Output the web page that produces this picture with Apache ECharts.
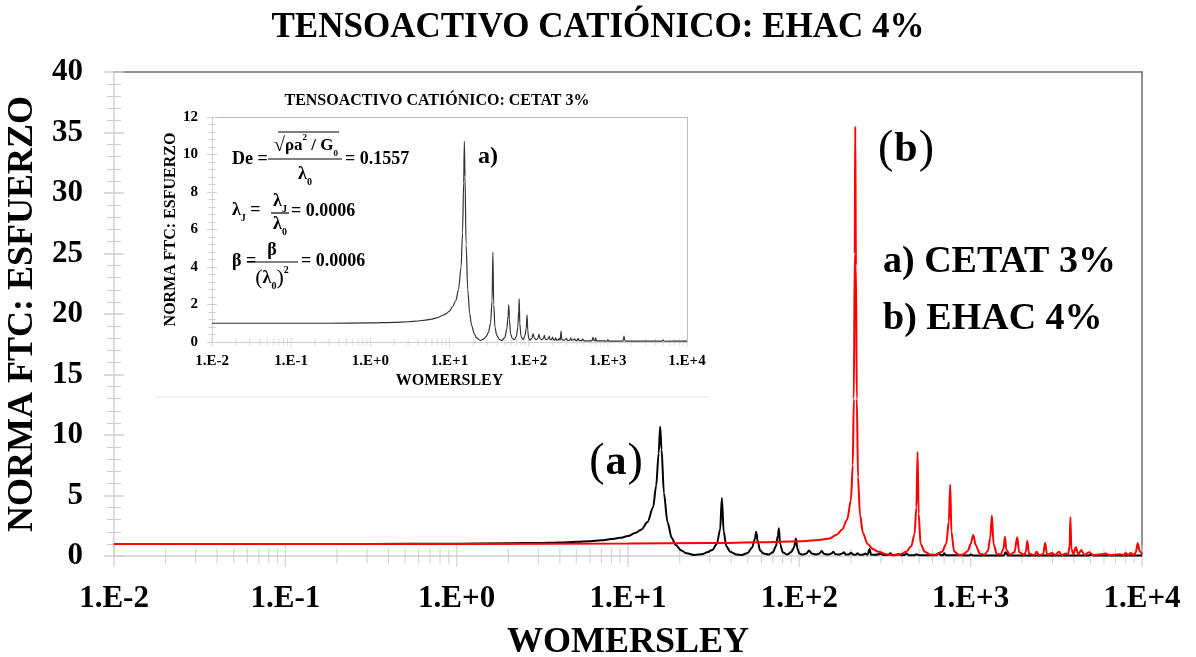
<!DOCTYPE html>
<html>
<head>
<meta charset="utf-8">
<script src="https://cdn.jsdelivr.net/npm/echarts@6/dist/echarts.min.js"></script>
<style>html,body{margin:0;padding:0;background:#fff}#c{width:1196px;height:657px}</style>
</head>
<body>
<div id="c"></div>
<script>
// ---------- DATA ----------
const mainTitle = 'TENSOACTIVO CATIÓNICO: EHAC 4%';
const insetTitle = 'TENSOACTIVO CATIÓNICO: CETAT 3%';
const xName = 'WOMERSLEY';
const yName = 'NORMA FTC: ESFUERZO';
const tickLabels = ['1.E-2', '1.E-1', '1.E+0', '1.E+1', '1.E+2', '1.E+3', '1.E+4'];
const xMajorTicks = [0.01, 0.1, 1, 10, 100, 1000, 10000];
const xMinorTicks = [0.02,0.03,0.04,0.05,0.06,0.07,0.08,0.09,
  0.2,0.3,0.4,0.5,0.6,0.7,0.8,0.9,
  2,3,4,5,6,7,8,9,
  20,30,40,50,60,70,80,90,
  200,300,400,500,600,700,800,900,
  2000,3000,4000,5000,6000,7000,8000,9000];

// a) CETAT 3%  (black curve, also the inset)
const cetatX = [0.01,0.03,0.1,0.3,1,2,3,4,5,6,7,8,9,10,11,12,13,14,14.6,15.1,15.4,15.7,16.2,17,18,19,20.5,22,24.5,27,29,31,33,34.5,35.3,36.2,37.5,39.5,43,46,50,53,55,56,57.2,59,62,66,70,73,75,76,77.2,80,85,90,93,95.5,97.5,100,104,110,114,118,125,131,135,139,147,154,158,162,170,178,182,186,194,200,206,213,219,224,235,243,250,257,262,280,300,310,330,340,350,380,395,410,420,435,470,480,500,630,650,670,690,700,720,980,1000,1030,1560,1600,1650,3000,4900,5000,5200,10000];
const cetatY = [1.0,1.0,1.0,1.0,1.02,1.05,1.08,1.12,1.17,1.22,1.3,1.4,1.5,1.65,1.9,2.2,2.8,4.0,5.8,8.5,10.7,8.8,5.2,2.8,1.5,0.9,0.45,0.22,0.08,0.15,0.3,0.5,1.0,2.2,4.8,2.0,0.8,0.35,0.12,0.08,0.25,0.7,1.4,2.0,1.2,0.45,0.2,0.12,0.3,0.8,1.7,2.3,1.0,0.3,0.12,0.35,0.7,1.45,0.6,0.2,0.1,0.2,0.45,0.2,0.12,0.2,0.42,0.18,0.12,0.2,0.36,0.15,0.12,0.2,0.32,0.13,0.12,0.26,0.12,0.1,0.22,0.1,0.1,0.2,0.1,0.58,0.12,0.1,0.18,0.08,0.08,0.22,0.08,0.15,0.07,0.08,0.2,0.07,0.07,0.15,0.06,0.06,0.25,0.07,0.06,0.22,0.06,0.05,0.12,0.05,0.05,0.32,0.05,0.05,0.05,0.1,0.04,0.05];

// b) EHAC 4%  (red curve)
const ehacX = [0.01,0.1,1,10,30,60,100,130,150,165,178,190,200,205,208,210.5,212,214,216.5,220,226,235,250,270,290,320,355,390,420,450,470,482,490,497,510,540,580,620,680,720,745,760,772,800,850,900,960,1000,1036,1070,1130,1200,1260,1300,1330,1360,1420,1500,1555,1585,1615,1700,1800,1870,1920,2050,2100,2140,2190,2350,2430,2500,2650,2720,2790,2990,3100,3280,3400,3590,3700,3780,3820,3870,3980,4110,4250,4420,4600,4900,5200,5830,6100,6500,7420,7800,8030,8300,8590,9000,9200,9440,9700,10000];
const ehacY = [1.0,1.0,1.0,1.03,1.07,1.13,1.22,1.32,1.45,1.75,2.2,3.0,4.6,7.5,13,25,35.5,24,13,6.5,3.4,1.9,1.0,0.55,0.35,0.15,0.05,0.15,0.35,0.8,1.8,4.0,8.6,3.5,1.0,0.35,0.12,0.1,0.35,1.0,2.8,5.9,2.0,0.4,0.1,0.1,0.4,1.0,1.74,0.9,0.2,0.1,0.4,1.5,3.35,1.0,0.15,0.15,0.6,1.6,0.5,0.1,0.3,1.55,0.3,0.1,0.35,1.27,0.2,0.08,0.36,0.08,0.15,1.1,0.1,0.25,0.08,0.35,0.08,0.2,0.1,0.8,3.2,0.6,0.15,0.72,0.12,0.5,0.08,0.3,0.07,0.15,0.2,0.07,0.15,0.07,0.25,0.08,0.25,0.08,0.3,1.05,0.4,0.15];

// ---------- CHART ----------
const FF = "'Liberation Serif','Times New Roman',serif";
const zip = (xs, ys) => xs.map((x, i) => [x, ys[i]]);
const fmt = v => tickLabels[Math.round(Math.log10(v)) + 2];
const LIGHT = '#d0d0d0';

const chart = echarts.init(document.getElementById('c'), null, {renderer: 'canvas'});

function logAxis(grid, extra) {
  const ax = Object.assign({
    type: 'log', logBase: 10, min: 0.01, max: 10000, gridIndex: grid, splitNumber: 6,
    splitLine: {show: false}, axisTick: {show: false}, minorTick: {show: false}
  }, extra);
  ax.axisLine = Object.assign({onZero: false}, ax.axisLine || {});
  return ax;
}

const richSmall = (fs) => ({
  n: {fontFamily: FF, fontWeight: 'bold', fontSize: fs, lineHeight: fs + 8, fill: '#000'},
  sb: {fontFamily: FF, fontWeight: 'bold', fontSize: Math.round(fs * 0.55), verticalAlign: 'bottom', fill: '#000'},
  sp: {fontFamily: FF, fontWeight: 'bold', fontSize: Math.round(fs * 0.55), verticalAlign: 'top', fill: '#000'},
  r: {fontFamily: FF, fontWeight: 'normal', fontSize: fs + 3, fill: '#000'},
  p: {fontFamily: FF, fontWeight: 'normal', fontSize: fs + 4, fill: '#000'}
});
function ftext(x, y, text, align, fs) {
  fs = fs || 18;
  return {type: 'text', x: x, y: y, z: 100,
    style: {text: text, rich: richSmall(fs), fontFamily: FF, fontWeight: 'bold', fontSize: fs,
      fill: '#000', align: align || 'left', verticalAlign: 'middle'}};
}
function fline(x1, y1, x2, y2) {
  return {type: 'line', z: 100, shape: {x1: x1, y1: y1, x2: x2, y2: y2}, style: {stroke: '#000', lineWidth: 1.2}};
}
function valAxis(extra) {
  const ax = Object.assign({type: 'value', splitLine: {show: false}}, extra);
  ax.axisLine = Object.assign({onZero: false}, ax.axisLine || {});
  return ax;
}

const option = {
  backgroundColor: '#fff',
  animation: false,
  title: [
    {text: mainTitle, left: 593, top: 5, textAlign: 'center',
      textStyle: {fontFamily: FF, fontWeight: 'bold', fontSize: 35, color: '#000'}},
    {text: insetTitle, left: 432, top: 88, textAlign: 'center',
      textStyle: {fontFamily: FF, fontWeight: 'bold', fontSize: 16, color: '#000'}}
  ],
  grid: [
    {left: 114, top: 72, width: 1028, height: 484, outerBoundsMode: 'none', containLabel: false},
    {left: 212, top: 117, width: 475, height: 225, outerBoundsMode: 'none', containLabel: false}
  ],
  xAxis: [
    logAxis(0, {position: 'bottom', name: xName, nameLocation: 'middle', nameGap: 69,
      nameTextStyle: {fontFamily: FF, fontWeight: 'bold', fontSize: 36, color: '#000'},
      axisLine: {lineStyle: {color: LIGHT, width: 1.5}},
      axisLabel: {formatter: fmt, margin: 27, fontFamily: FF, fontWeight: 'bold', fontSize: 31, color: '#000'}}),
    logAxis(0, {position: 'top', axisLine: {lineStyle: {color: '#6e6e6e', width: 1.5}}, axisLabel: {show: false}}),
    logAxis(1, {position: 'bottom', name: xName, nameLocation: 'middle', nameGap: 31,
      nameTextStyle: {fontFamily: FF, fontWeight: 'bold', fontSize: 16, color: '#000'},
      axisLine: {lineStyle: {color: LIGHT, width: 1}},
      axisLabel: {formatter: fmt, margin: 12, fontFamily: FF, fontWeight: 'bold', fontSize: 15, color: '#000'}}),
    logAxis(1, {position: 'top', axisLine: {lineStyle: {color: '#bdbdbd', width: 1}}, axisLabel: {show: false}})
  ],
  yAxis: [
    valAxis({gridIndex: 0, min: 0, max: 40, interval: 5, position: 'left',
      name: yName, nameLocation: 'middle', nameGap: 69,
      nameTextStyle: {fontFamily: FF, fontWeight: 'bold', fontSize: 36, color: '#000'},
      axisLine: {show: true, lineStyle: {color: LIGHT, width: 1.5}},
      axisTick: {show: true, inside: false, length: 10, lineStyle: {color: LIGHT, width: 1.5}},
      minorTick: {show: true, splitNumber: 5, length: 7, lineStyle: {color: LIGHT, width: 1.2}},
      axisLabel: {margin: 31, fontFamily: FF, fontWeight: 'bold', fontSize: 31, color: '#000'}}),
    valAxis({gridIndex: 0, min: 0, max: 40, interval: 5, position: 'left',
      axisLine: {show: false}, axisLabel: {show: false},
      axisTick: {show: true, inside: true, length: 10, lineStyle: {color: LIGHT, width: 1.5}},
      minorTick: {show: true, splitNumber: 5, length: 7, lineStyle: {color: LIGHT, width: 1.2}}}),
    valAxis({gridIndex: 0, min: 0, max: 40, interval: 5, position: 'right',
      axisTick: {show: false}, axisLabel: {show: false},
      axisLine: {show: true, lineStyle: {color: '#6e6e6e', width: 1.5}}}),
    valAxis({gridIndex: 1, min: 0, max: 12, interval: 2, position: 'left',
      name: yName, nameLocation: 'middle', nameGap: 29,
      nameTextStyle: {fontFamily: FF, fontWeight: 'bold', fontSize: 16, color: '#000'},
      axisLine: {show: true, lineStyle: {color: LIGHT, width: 1}},
      axisTick: {show: true, inside: false, length: 5, lineStyle: {color: LIGHT}},
      minorTick: {show: true, splitNumber: 5, length: 3.5, lineStyle: {color: LIGHT}},
      axisLabel: {margin: 14, fontFamily: FF, fontWeight: 'bold', fontSize: 15, color: '#000'}}),
    valAxis({gridIndex: 1, min: 0, max: 12, interval: 2, position: 'left',
      axisLine: {show: false}, axisLabel: {show: false},
      axisTick: {show: true, inside: true, length: 5, lineStyle: {color: LIGHT}},
      minorTick: {show: true, splitNumber: 5, length: 3.5, lineStyle: {color: LIGHT}}}),
    valAxis({gridIndex: 1, min: 0, max: 12, interval: 2, position: 'right',
      axisTick: {show: false}, axisLabel: {show: false},
      axisLine: {show: true, lineStyle: {color: '#bdbdbd', width: 1}}})
  ],
  series: [
    {type: 'scatter', xAxisIndex: 0, yAxisIndex: 0, data: xMajorTicks.map(v => [v, 0]),
      symbol: 'rect', symbolSize: [1.5, 22], itemStyle: {color: LIGHT}, silent: true, clip: false, z: 1},
    {type: 'scatter', xAxisIndex: 0, yAxisIndex: 0, data: xMinorTicks.map(v => [v, 0]),
      symbol: 'rect', symbolSize: [1.3, 15], itemStyle: {color: LIGHT}, silent: true, clip: false, z: 1},
    {type: 'scatter', xAxisIndex: 2, yAxisIndex: 3, data: xMajorTicks.map(v => [v, 0]),
      symbol: 'rect', symbolSize: [1, 10], itemStyle: {color: LIGHT}, silent: true, clip: false, z: 1},
    {type: 'scatter', xAxisIndex: 2, yAxisIndex: 3, data: xMinorTicks.map(v => [v, 0]),
      symbol: 'rect', symbolSize: [1, 7], itemStyle: {color: LIGHT}, silent: true, clip: false, z: 1},
    {type: 'line', name: 'CETAT 3%', xAxisIndex: 0, yAxisIndex: 0, data: zip(cetatX, cetatY),
      showSymbol: false, smooth: 0.3, smoothMonotone: 'x', lineStyle: {color: '#000', width: 2}, z: 3},
    {type: 'line', name: 'EHAC 4%', xAxisIndex: 0, yAxisIndex: 0, data: zip(ehacX, ehacY),
      showSymbol: false, smooth: 0.3, smoothMonotone: 'x', lineStyle: {color: '#ff0000', width: 2}, z: 4},
    {type: 'line', name: 'CETAT 3% (inset)', xAxisIndex: 2, yAxisIndex: 3, data: zip(cetatX, cetatY),
      showSymbol: false, smooth: 0.3, smoothMonotone: 'x', lineStyle: {color: '#333', width: 1.2}, z: 3}
  ],
  graphic: [
    {type: 'line', shape: {x1: 155, y1: 397, x2: 708, y2: 397}, style: {stroke: '#ececec', lineWidth: 1.5}},
    // formula 1
    ftext(232, 159, 'De ='),
    ftext(306, 146, '{r|√}{n|ρa}{sp|2}{n| / G}{sb|0}', 'center', 17),
    fline(278, 132, 339, 132),
    fline(268, 159, 342, 159),
    ftext(305, 174, '{n|λ}{sb|0}', 'center'),
    ftext(345, 159, '= 0.1557'),
    // formula 2
    ftext(232, 210, '{n|λ}{sb|J}{n| =}'),
    ftext(280, 201, '{n|λ}{sb|J}', 'center'),
    fline(271, 213, 289, 213),
    ftext(280, 224, '{n|λ}{sb|0}', 'center'),
    ftext(291, 211, '= 0.0006'),
    // formula 3
    ftext(232, 261, 'β ='),
    ftext(272, 250, 'β', 'center'),
    fline(247, 262, 298, 262),
    ftext(272, 278, '{p|(}{n|λ}{sb|0}{p|)}{sp|2}', 'center'),
    ftext(301, 261, '= 0.0006'),
    {type: 'text', x: 478, y: 157, z: 100, style: {text: 'a)', fontFamily: FF, fontWeight: 'bold', fontSize: 24, fill: '#000', align: 'left', verticalAlign: 'middle'}},
    {type: 'text', x: 616, y: 463, z: 100, style: {text: '{p|(}{b|a}{p|)}', align: 'center', verticalAlign: 'middle',
      rich: {p: {fontFamily: FF, fontSize: 46, fill: '#000', padding: [0, 1, 0, 1]}, b: {fontFamily: FF, fontWeight: 'bold', fontSize: 42, fill: '#000'}}}},
    {type: 'text', x: 906, y: 150, z: 100, style: {text: '{p|(}{b|b}{p|)}', align: 'center', verticalAlign: 'middle',
      rich: {p: {fontFamily: FF, fontSize: 46, fill: '#000', padding: [0, 1, 0, 1]}, b: {fontFamily: FF, fontWeight: 'bold', fontSize: 42, fill: '#000'}}}},
    {type: 'text', x: 883, y: 262, z: 100, style: {text: 'a) CETAT 3%', fontFamily: FF, fontWeight: 'bold', fontSize: 38, fill: '#000', align: 'left', verticalAlign: 'middle'}},
    {type: 'text', x: 883, y: 319, z: 100, style: {text: 'b) EHAC 4%', fontFamily: FF, fontWeight: 'bold', fontSize: 38, fill: '#000', align: 'left', verticalAlign: 'middle'}}
  ]
};
chart.setOption(option);
</script>
</body>
</html>
